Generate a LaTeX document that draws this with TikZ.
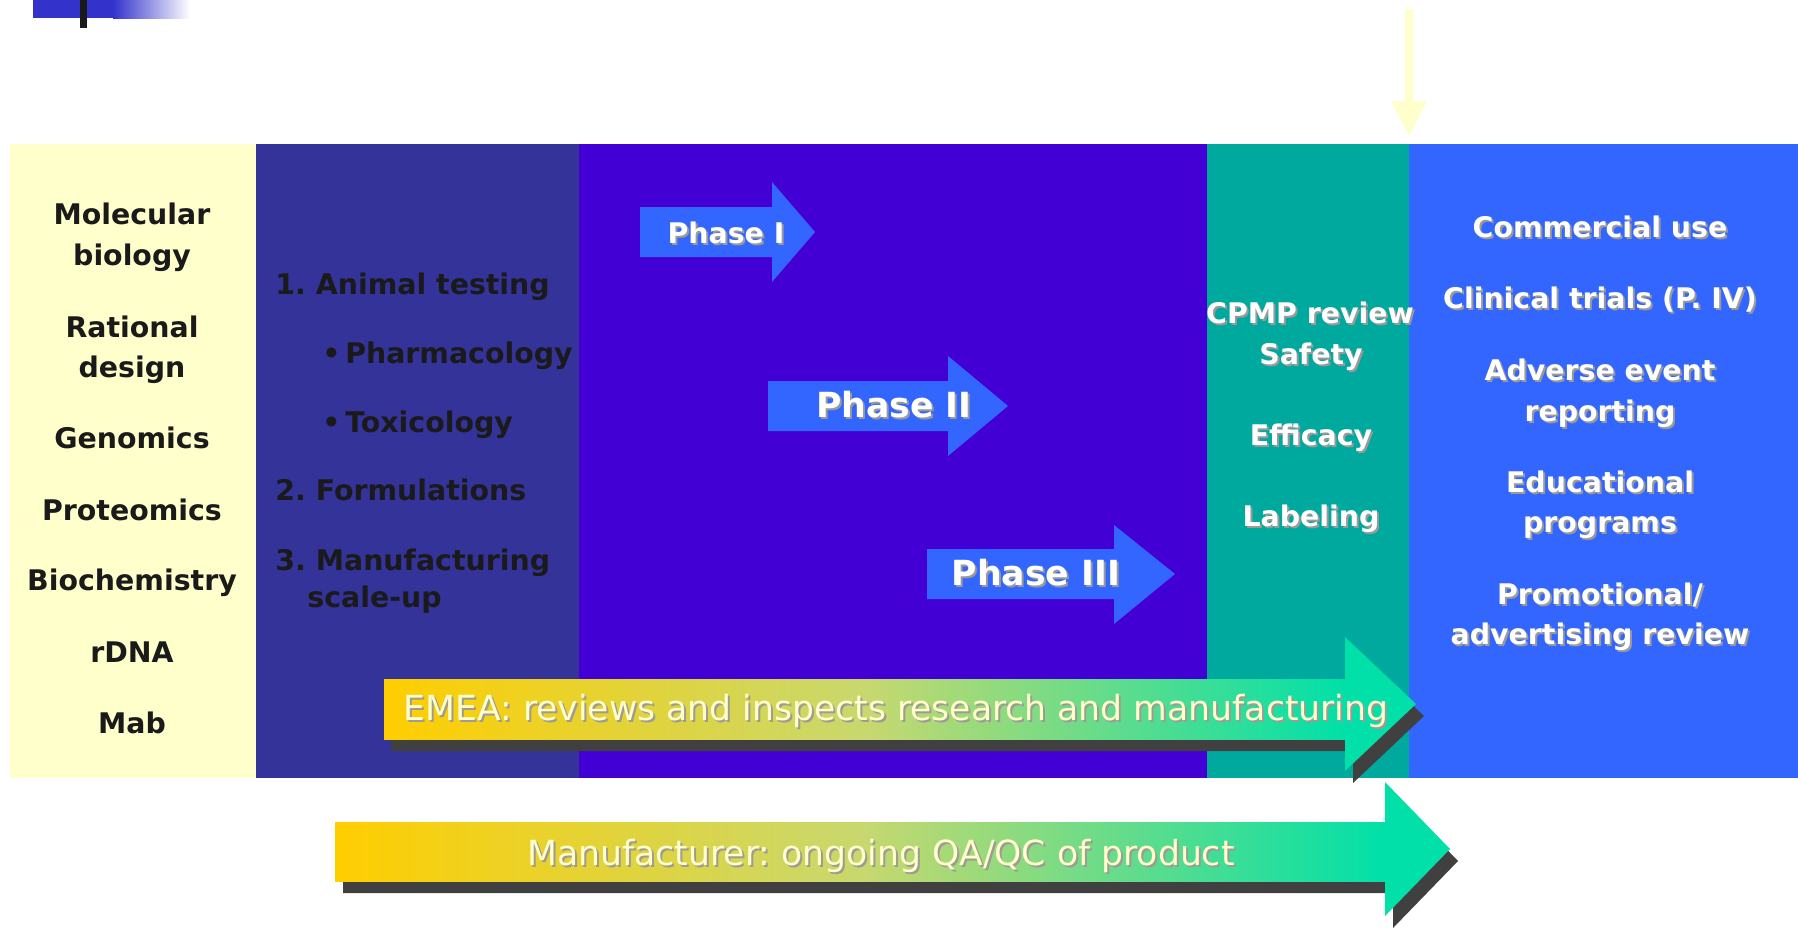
\documentclass[tikz,border=0pt]{standalone}
\usepackage{fontspec}
\setmainfont{DejaVu Sans}
\frenchspacing
\definecolor{colyellow}{HTML}{FFFFCC}
\definecolor{coldark}{HTML}{333399}
\definecolor{colpurple}{HTML}{4200D4}
\definecolor{colteal}{HTML}{00A99D}
\definecolor{colblue}{HTML}{3366FF}
\definecolor{colgold}{HTML}{FFCE00}
\definecolor{colmid}{HTML}{C8D86E}
\definecolor{colmint}{HTML}{00E0A8}
\definecolor{colshadow}{HTML}{404040}
\definecolor{topblue}{HTML}{3333CC}
\definecolor{txtdark}{HTML}{1A1A1A}
\definecolor{txtcream}{HTML}{FFFFCC}
\definecolor{txtshade}{HTML}{9A9A9A}
\definecolor{emeashade}{HTML}{A09A94}
\newcommand{\shadtxt}[2][txtshade]{\leavevmode\rlap{\hspace{1pt}\raisebox{-1pt}{\textcolor{#1}{#2}}}#2}
\begin{document}
\begin{tikzpicture}[x=0.5pt,y=-0.5pt,
  darktxt/.style={text=txtdark, font=\fontsize{14.2}{16}\selectfont\bfseries, inner sep=0pt},
  whitetxt/.style={text=white, font=\fontsize{14.2}{16}\selectfont\bfseries, inner sep=0pt, anchor=base},
  phasetxt/.style={text=white, font=\fontsize{17.3}{20}\selectfont\bfseries, inner sep=0pt, anchor=base},
  creamtxt/.style={text=txtcream, font=\fontsize{17.3}{20}\selectfont, inner sep=0pt, anchor=base},
  phasearrow/.style={fill=colblue},
  dropshadow/.style={fill=colshadow},
  bandshade/.style={left color=colgold, right color=colmint, middle color=colmid}]
\useasboundingbox (0,0) rectangle (1798,928);
\fill[white] (0,0) rectangle (1798,928);
% top-left decoration
\fill[topblue] (33,0) rectangle (114,18);
\shade[left color=topblue, right color=white] (113,0) rectangle (190,18);
\fill[txtdark] (80,0) rectangle (87,28);
% top yellow arrow
\fill[colyellow] (1405,9) -- (1413,9) -- (1413,101) -- (1427,101) -- (1409,136) -- (1391,101) -- (1405,101) -- cycle;
% columns
\fill[colyellow] (10,144) rectangle (256,778);
\fill[coldark] (256,144) rectangle (579,778);
\fill[colpurple] (579,144) rectangle (1207,778);
\fill[colteal] (1207,144) rectangle (1409,778);
\fill[colblue] (1409,144) rectangle (1798,778);
% left column text
\foreach \t/\yy [count=\i] in {Molecular/224, biology/265, Rational/337, design/377, Genomics/448, Proteomics/520, Biochemistry/590, rDNA/662, Mab/733}
  \node[darktxt, anchor=base] (left\i) at (132,\yy) {\t};
% dark blue column text
\node[darktxt, anchor=base west] (animal) at (275,294) {1. Animal testing};
\node[darktxt, anchor=base west] (pharma) at (322,363) {\textbullet\,Pharmacology};
\node[darktxt, anchor=base west] (toxi) at (322,432) {\textbullet\,Toxicology};
\node[darktxt, anchor=base west] (formul) at (275,500) {2. Formulations};
\node[darktxt, anchor=base west] (manuf) at (275,570) {3. Manufacturing};
\node[darktxt, anchor=base west] (scale) at (307,607) {scale-up};
% phase arrows
\fill[phasearrow] (640,207) -- (772,207) -- (772,182) -- (815,232) -- (772,282) -- (772,257) -- (640,257) -- cycle;
\fill[phasearrow] (768,381) -- (948,381) -- (948,356) -- (1008,406) -- (948,456) -- (948,431) -- (768,431) -- cycle;
\fill[phasearrow] (927,549) -- (1114,549) -- (1114,525) -- (1175,574) -- (1114,624) -- (1114,599) -- (927,599) -- cycle;
\node[whitetxt] (ph1) at (726,243) {\shadtxt{Phase I}};
\node[phasetxt] (ph2) at (894,417) {\shadtxt{Phase II}};
\node[phasetxt] (ph3) at (1036,585) {\shadtxt{Phase III}};
% teal column text
\node[whitetxt] (cpmp) at (1310,323) {\shadtxt{CPMP review}};
\node[whitetxt] (safety) at (1311,364) {\shadtxt{Safety}};
\node[whitetxt] (effic) at (1311,445) {\shadtxt{Efficacy}};
\node[whitetxt] (label) at (1311,526) {\shadtxt{Labeling}};
% blue column text
\node[whitetxt] (comm) at (1600,237) {\shadtxt{Commercial use}};
\node[whitetxt] (clin) at (1600,308) {\shadtxt{Clinical trials (P. IV)}};
\node[whitetxt] (adv1) at (1600,380) {\shadtxt{Adverse event}};
\node[whitetxt] (adv2) at (1600,421) {\shadtxt{reporting}};
\node[whitetxt] (edu1) at (1600,492) {\shadtxt{Educational}};
\node[whitetxt] (edu2) at (1600,532) {\shadtxt{programs}};
\node[whitetxt] (pro1) at (1600,604) {\shadtxt{Promotional/}};
\node[whitetxt] (pro2) at (1600,644) {\shadtxt{advertising review}};
% EMEA arrow
\fill[dropshadow] (391,691) -- (1353,691) -- (1353,649) -- (1424,716) -- (1353,783) -- (1353,751) -- (391,751) -- cycle;
\shade[bandshade] (384,679) rectangle (1346,739);
\fill[colmint] (1345,637) -- (1416,704) -- (1345,771) -- cycle;
\node[creamtxt] (emea) at (896,720) {\shadtxt[emeashade]{EMEA: reviews and inspects research and manufacturing}};
% Manufacturer arrow
\fill[dropshadow] (343,834) -- (1393,834) -- (1393,794) -- (1458,861) -- (1393,928) -- (1393,893) -- (343,893) -- cycle;
\shade[bandshade] (335,822) rectangle (1386,881);
\fill[colmint] (1385,782) -- (1450,849) -- (1385,916) -- cycle;
\node[creamtxt] (qaqc) at (881,865) {\shadtxt[emeashade]{Manufacturer: ongoing QA/QC of product}};
\end{tikzpicture}
\end{document}
